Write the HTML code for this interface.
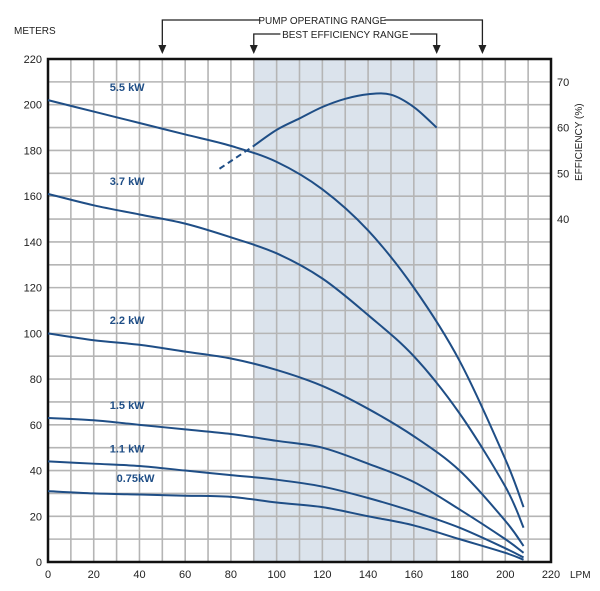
<!DOCTYPE html>
<html><head><meta charset="utf-8"><style>
body{margin:0;background:#fff}
svg text{font-family:"Liberation Sans",sans-serif;fill:#222}
</style></head><body>
<svg id="c" width="600" height="586" viewBox="0 0 600 586"></svg>
<script>
const xTicks=[0,20,40,60,80,100,120,140,160,180,200,220];
const yTicks=[0,20,40,60,80,100,120,140,160,180,200,220];
const effTicks=[40,50,60,70];
const flows=[0,20,40,60,80,100,120,140,160,180,200,208];
const head55=[202,197,192,187,182,175,163,145,120,88,45,24];
const head37=[161,156,152,148,142,135,124,108,90,65,33,15];
const head22=[100,97,95,92,89,84,77,67,55,40,18,7];
const head15=[63,62,60,58,56,53,50,43,35,23,10,4];
const head11=[44,43,42,40,38,36,33,28,22,15,6,2];
const head075=[31,30,29.5,29,28.5,26,24,20,16,10,4,1];
const seriesNames=["5.5 kW","3.7 kW","2.2 kW","1.5 kW","1.1 kW","0.75kW"];
const labelFlow=[27,27,27,27,27,30];
const labelHead=[206,165,104,67,48,35];
const effFlows=[90,100,110,120,130,140,150,160,170];
const effVals=[56,59.5,62,64.5,66.3,67.3,67.2,64.5,60];
const effDashFlows=[75,90];
const effDashVals=[51,56];
const bestRange=[90,170];
const opRange=[50,190];

const NS="http://www.w3.org/2000/svg",svg=document.getElementById('c');
const X0=48,X1=551,Y0=562,Y1=59;
const sx=v=>X0+(X1-X0)*v/220, sy=v=>Y0-(Y0-Y1)*v/220;
const se=e=>sy(2*e+70);
function el(t,a,p){const e=document.createElementNS(NS,t);for(const k in a)e.setAttribute(k,a[k]);(p||svg).appendChild(e);return e;}
function smooth(pts){let d=`M${pts[0][0]},${pts[0][1]}`;for(let i=0;i<pts.length-1;i++){const p0=pts[i-1]||pts[i],p1=pts[i],p2=pts[i+1],p3=pts[i+2]||p2;d+=`C${p1[0]+(p2[0]-p0[0])/6},${p1[1]+(p2[1]-p0[1])/6} ${p2[0]-(p3[0]-p1[0])/6},${p2[1]-(p3[1]-p1[1])/6} ${p2[0]},${p2[1]}`;}return d;}

let r=el('rect',{x:sx(bestRange[0]),y:Y1,width:sx(bestRange[1])-sx(bestRange[0]),height:Y0-Y1,fill:'#dbe3ec'});

const g=el('g',{stroke:'#b5b5b5','stroke-width':1.6});

for(let v=10;v<220;v+=10){el('line',{x1:sx(v),x2:sx(v),y1:Y1,y2:Y0},g);el('line',{x1:X0,x2:X1,y1:sy(v),y2:sy(v)},g);}
let fr=el('rect',{x:X0,y:Y1,width:X1-X0,height:Y0-Y1,fill:'none',stroke:'#111','stroke-width':2.5});

xTicks.forEach(v=>{const t=el('text',{x:sx(v),y:578,'font-size':11,'text-anchor':'middle'});t.textContent=v;
});
yTicks.forEach(v=>{const t=el('text',{x:42,y:sy(v)+4,'font-size':11,'text-anchor':'end'});t.textContent=v;
});
effTicks.forEach(v=>{const t=el('text',{x:557,y:se(v)+4,'font-size':11});t.textContent=v;
});
let t=el('text',{x:14,y:34,'font-size':10});t.textContent='METERS';
t=el('text',{x:570,y:578,'font-size':10});t.textContent='LPM';
t=el('text',{x:0,y:0,'font-size':10,transform:'translate(582,181) rotate(-90)'});t.textContent='EFFICIENCY (%)';

[head55,head37,head22,head15,head11,head075].forEach((h,i)=>{
 const p=el('path',{d:smooth(flows.map((f,j)=>[sx(f),sy(h[j])])),fill:'none',stroke:'#1f4e86','stroke-width':2});
 
 const l=el('text',{x:sx(labelFlow[i]),y:sy(labelHead[i]),'font-size':11,'font-weight':'bold',style:'fill:#1f4e86'});l.textContent=seriesNames[i];
 
});
let ep=el('path',{d:smooth(effFlows.map((f,j)=>[sx(f),se(effVals[j])])),fill:'none',stroke:'#1f4e86','stroke-width':2});

ep=el('path',{d:`M${sx(effDashFlows[0])},${se(effDashVals[0])}L${sx(effDashFlows[1])},${se(effDashVals[1])}`,stroke:'#1f4e86','stroke-width':2,'stroke-dasharray':'6,4'});


function range(rg,y,label,name){
 const a=sx(rg[0]),b=sx(rg[1]),m=(a+b)/2,w=label.length*5.6+12;
 const gg=el('g',{});
 el('path',{d:`M${a},50V${y}H${m-w/2}M${m+w/2},${y}H${b}V50`,fill:'none',stroke:'#222','stroke-width':1.3},gg);
 [a,b].forEach(x=>el('path',{d:`M${x-4},45L${x+4},45L${x},54Z`,fill:'#222'},gg));
 const tt=el('text',{x:m,y:y+4,'font-size':10,'text-anchor':'middle'},gg);tt.textContent=label;
}
range(opRange,20,'PUMP OPERATING RANGE','pump-operating-range');
range(bestRange,34,'BEST EFFICIENCY RANGE','best-efficiency-range');
</script>
</body></html>
